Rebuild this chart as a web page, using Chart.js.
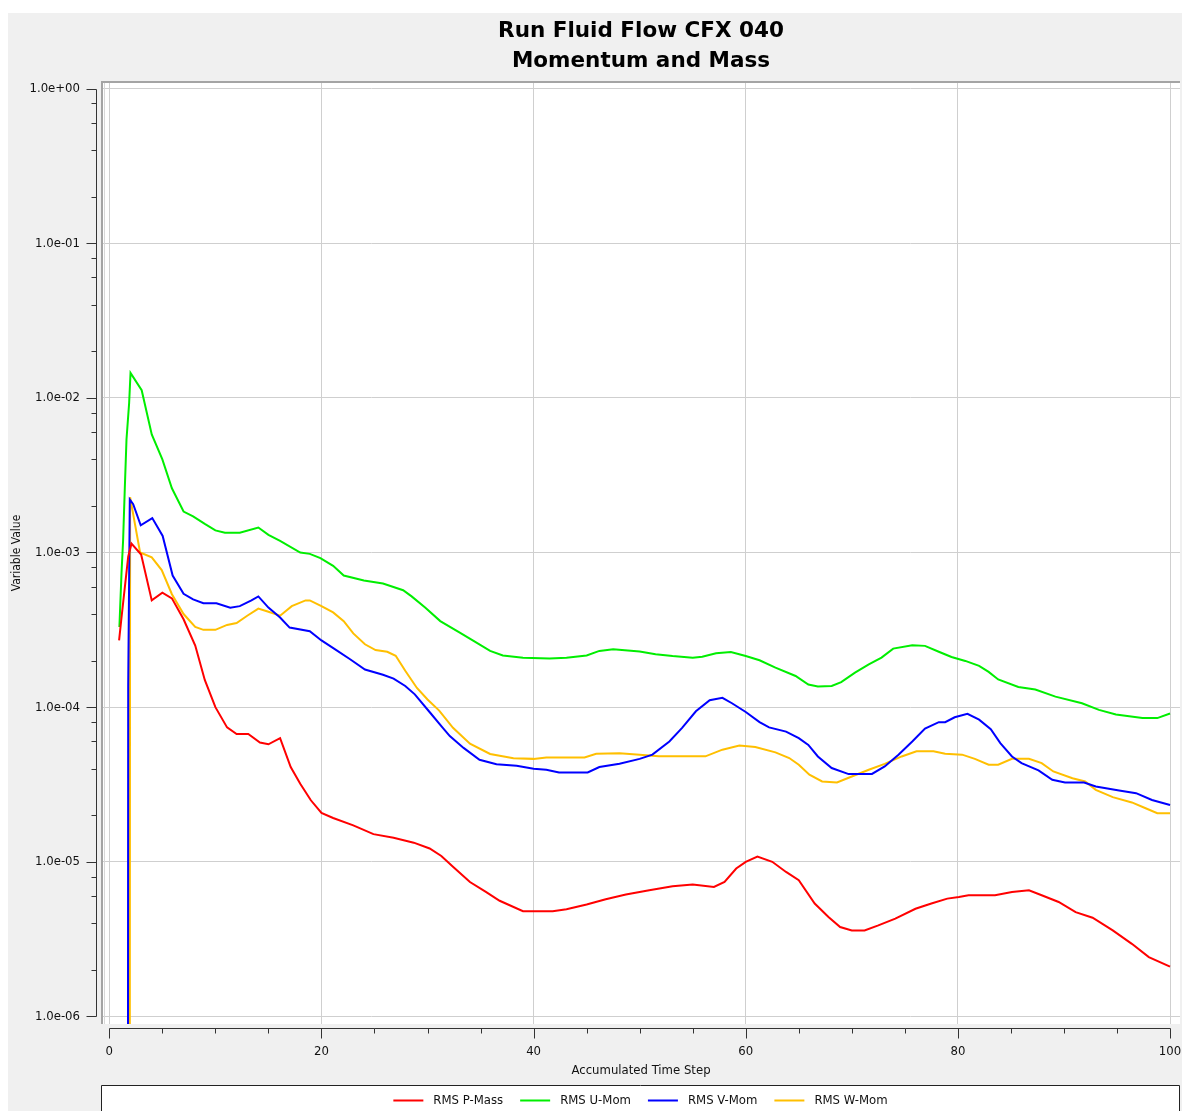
<!DOCTYPE html>
<html>
<head>
<meta charset="utf-8">
<script src="https://cdn.jsdelivr.net/npm/chart.js@4.4.1/dist/chart.umd.min.js"></script>
<style>
html,body{margin:0;padding:0;background:#fff;overflow:hidden}
#wrap{width:1184px;height:1111px;position:relative}
canvas{display:block}
</style>
</head>
<body>
<div id="wrap"><canvas id="c" width="1184" height="1111"></canvas></div>
<script>
// ---------------- data ----------------
const chartTitle = ['Run Fluid Flow CFX 040', 'Momentum and Mass'];
const xAxisTitle = 'Accumulated Time Step';
const yAxisTitle = 'Variable Value';
const seriesNames = ['RMS P-Mass', 'RMS U-Mom', 'RMS V-Mom', 'RMS W-Mom'];
const seriesColors = ['#ff0000', '#00ee00', '#0000ff', '#ffbf00'];

const xTickValues = [0, 20, 40, 60, 80, 100];
const xMinorTickValues = [0, 5, 10, 15, 20, 25, 30, 35, 40, 45, 50, 55, 60, 65, 70, 75, 80, 85, 90, 95, 100];
const yTickValues = [1e-6, 1e-5, 1e-4, 1e-3, 1e-2, 1e-1, 1e0];
const yMinorMultipliers = [2, 4, 6, 8];

const pMassSteps = [0.92, 1.15, 1.78, 2.09, 3.0, 4.0, 5.0, 5.9, 7.0, 8.1, 9.0, 10.0, 11.1, 12.0, 13.1, 14.2, 15.0, 16.1, 17.1, 18.0, 19.0, 20.0, 21.1, 23.0, 24.9, 26.8, 28.7, 30.2, 31.3, 32.4, 34.0, 35.5, 36.8, 39.0, 41.8, 43.1, 45.0, 46.8, 48.7, 50.9, 53.1, 55.0, 57.0, 58.0, 59.1, 60.0, 61.1, 62.5, 63.8, 65.0, 66.5, 67.8, 68.9, 70.0, 71.2, 72.5, 74.1, 76.0, 77.5, 79.0, 80.1, 81.0, 83.5, 85.1, 86.7, 87.9, 89.5, 91.1, 92.7, 94.6, 96.4, 98.0, 100];
const pMassValues = [2.7e-4, 3.8e-4, 9.4e-4, 1.14e-3, 9.7e-4, 4.9e-4, 5.5e-4, 5.05e-4, 3.7e-4, 2.5e-4, 1.5e-4, 1.0e-4, 7.4e-5, 6.7e-5, 6.7e-5, 5.9e-5, 5.75e-5, 6.3e-5, 4.1e-5, 3.2e-5, 2.5e-5, 2.07e-5, 1.92e-5, 1.72e-5, 1.51e-5, 1.43e-5, 1.33e-5, 1.22e-5, 1.09e-5, 9.3e-6, 7.4e-6, 6.4e-6, 5.6e-6, 4.79e-6, 4.79e-6, 4.93e-6, 5.29e-6, 5.73e-6, 6.14e-6, 6.55e-6, 6.95e-6, 7.13e-6, 6.88e-6, 7.42e-6, 9.05e-6, 1.0e-5, 1.08e-5, 1.0e-5, 8.6e-6, 7.6e-6, 5.37e-6, 4.4e-6, 3.79e-6, 3.6e-6, 3.6e-6, 3.88e-6, 4.29e-6, 4.97e-6, 5.37e-6, 5.78e-6, 5.93e-6, 6.08e-6, 6.08e-6, 6.38e-6, 6.55e-6, 6.08e-6, 5.5e-6, 4.73e-6, 4.35e-6, 3.6e-6, 2.95e-6, 2.42e-6, 2.1e-6];

const uMomSteps = [0.95, 1.15, 1.3, 1.46, 1.62, 1.87, 2.0, 3.05, 4.0, 5.0, 5.9, 7.0, 7.9, 9.0, 10.0, 10.9, 12.3, 14.05, 15.0, 16.1, 18.0, 18.9, 19.9, 21.1, 22.1, 24.0, 25.8, 27.7, 28.5, 29.8, 31.2, 33.0, 34.3, 35.9, 37.1, 39.0, 41.5, 43.1, 45.0, 46.2, 47.5, 50.0, 51.5, 53.1, 55.0, 55.9, 57.2, 58.6, 60.0, 61.3, 62.8, 64.7, 65.9, 66.8, 68.1, 69.0, 70.3, 71.6, 72.8, 73.9, 75.7, 76.9, 78.2, 79.4, 80.7, 82.0, 82.9, 83.8, 85.7, 87.3, 89.2, 91.7, 93.3, 94.9, 97.4, 98.8, 100];
const uMomValues = [3.3e-4, 7.4e-4, 1.2e-3, 2.6e-3, 5.4e-3, 9.3e-3, 1.45e-2, 1.12e-2, 5.8e-3, 4.0e-3, 2.6e-3, 1.84e-3, 1.71e-3, 1.53e-3, 1.39e-3, 1.34e-3, 1.34e-3, 1.45e-3, 1.3e-3, 1.19e-3, 1.0e-3, 9.8e-4, 9.2e-4, 8.2e-4, 7.1e-4, 6.6e-4, 6.3e-4, 5.7e-4, 5.2e-4, 4.4e-4, 3.6e-4, 3.04e-4, 2.69e-4, 2.31e-4, 2.16e-4, 2.09e-4, 2.06e-4, 2.09e-4, 2.16e-4, 2.31e-4, 2.37e-4, 2.29e-4, 2.2e-4, 2.14e-4, 2.09e-4, 2.12e-4, 2.23e-4, 2.27e-4, 2.14e-4, 2.01e-4, 1.8e-4, 1.59e-4, 1.4e-4, 1.36e-4, 1.37e-4, 1.45e-4, 1.67e-4, 1.89e-4, 2.09e-4, 2.39e-4, 2.51e-4, 2.49e-4, 2.28e-4, 2.11e-4, 1.99e-4, 1.85e-4, 1.69e-4, 1.51e-4, 1.35e-4, 1.3e-4, 1.17e-4, 1.06e-4, 9.6e-5, 8.96e-5, 8.5e-5, 8.5e-5, 9.1e-5];

const vMomSteps = [1.76, 1.78, 1.93, 2.25, 2.96, 4.05, 5.03, 5.97, 7.0, 7.9, 8.87, 10.1, 11.4, 12.3, 13.4, 14.05, 15.0, 16.1, 17.0, 18.9, 20.0, 21.4, 22.7, 24.1, 25.8, 26.8, 27.9, 28.8, 30.25, 31.4, 32.1, 33.4, 34.9, 36.5, 38.4, 40.0, 41.2, 42.4, 45.1, 46.2, 48.1, 50.0, 51.2, 52.8, 54.0, 55.3, 56.6, 57.8, 58.7, 60.0, 61.3, 62.2, 63.8, 65.0, 65.9, 66.8, 68.1, 69.7, 71.9, 73.1, 74.4, 75.7, 76.9, 78.2, 78.8, 79.7, 80.9, 82.0, 83.1, 84.0, 85.1, 86.0, 87.6, 88.9, 90.1, 91.9, 93.0, 95.2, 96.8, 98.3, 100];
const vMomValues = [5e-7, 1.36e-4, 2.2e-3, 2.05e-3, 1.5e-3, 1.67e-3, 1.28e-3, 7.1e-4, 5.4e-4, 4.97e-4, 4.7e-4, 4.7e-4, 4.4e-4, 4.5e-4, 4.9e-4, 5.2e-4, 4.4e-4, 3.8e-4, 3.27e-4, 3.1e-4, 2.7e-4, 2.34e-4, 2.04e-4, 1.75e-4, 1.62e-4, 1.53e-4, 1.37e-4, 1.21e-4, 9.2e-5, 7.4e-5, 6.5e-5, 5.45e-5, 4.57e-5, 4.28e-5, 4.18e-5, 4.0e-5, 3.94e-5, 3.78e-5, 3.78e-5, 4.1e-5, 4.3e-5, 4.63e-5, 4.93e-5, 6.0e-5, 7.35e-5, 9.4e-5, 1.11e-4, 1.15e-4, 1.06e-4, 9.3e-5, 8.0e-5, 7.4e-5, 6.95e-5, 6.3e-5, 5.7e-5, 4.8e-5, 4.04e-5, 3.69e-5, 3.7e-5, 4.14e-5, 4.93e-5, 6.0e-5, 7.26e-5, 8.0e-5, 8.0e-5, 8.6e-5, 9.05e-5, 8.3e-5, 7.2e-5, 5.86e-5, 4.8e-5, 4.35e-5, 3.9e-5, 3.39e-5, 3.26e-5, 3.26e-5, 3.07e-5, 2.89e-5, 2.78e-5, 2.51e-5, 2.33e-5];

const wMomSteps = [1.93, 1.96, 2.9, 4.0, 4.94, 5.9, 7.0, 8.1, 8.87, 10.0, 11.1, 12.0, 13.0, 14.05, 15.0, 16.1, 17.2, 18.5, 18.9, 20.0, 21.1, 22.1, 23.0, 24.1, 25.1, 26.2, 27.0, 27.9, 29.0, 30.0, 31.1, 32.4, 34.0, 35.9, 38.1, 40.0, 41.2, 44.8, 45.9, 48.1, 50.0, 51.8, 56.2, 57.8, 59.4, 60.9, 62.8, 64.1, 65.0, 66.0, 67.2, 68.6, 70.0, 71.6, 73.1, 74.7, 76.1, 77.7, 78.8, 80.4, 81.6, 82.9, 83.8, 85.1, 86.7, 87.9, 89.0, 90.8, 92.0, 93.0, 94.6, 96.4, 97.7, 98.8, 100];
const wMomValues = [5e-7, 2.28e-3, 1.0e-3, 9.3e-4, 7.7e-4, 5.37e-4, 4.0e-4, 3.3e-4, 3.16e-4, 3.16e-4, 3.4e-4, 3.5e-4, 3.9e-4, 4.34e-4, 4.14e-4, 3.9e-4, 4.5e-4, 4.9e-4, 4.9e-4, 4.5e-4, 4.1e-4, 3.6e-4, 3.0e-4, 2.55e-4, 2.34e-4, 2.28e-4, 2.15e-4, 1.72e-4, 1.33e-4, 1.12e-4, 9.5e-5, 7.35e-5, 5.8e-5, 4.98e-5, 4.67e-5, 4.63e-5, 4.73e-5, 4.73e-5, 5.0e-5, 5.03e-5, 4.93e-5, 4.81e-5, 4.81e-5, 5.31e-5, 5.64e-5, 5.52e-5, 5.1e-5, 4.69e-5, 4.24e-5, 3.66e-5, 3.31e-5, 3.26e-5, 3.56e-5, 3.94e-5, 4.3e-5, 4.8e-5, 5.18e-5, 5.18e-5, 5.0e-5, 4.93e-5, 4.63e-5, 4.25e-5, 4.25e-5, 4.63e-5, 4.63e-5, 4.35e-5, 3.84e-5, 3.47e-5, 3.31e-5, 2.92e-5, 2.62e-5, 2.42e-5, 2.22e-5, 2.06e-5, 2.06e-5];

// ---------------- build ----------------
const FONT = '"DejaVu Sans Condensed", "Liberation Sans", sans-serif';
const pairs = (xs, ys) => xs.map((x, i) => ({ x: x, y: ys[i] }));
const seriesData = [
  pairs(pMassSteps, pMassValues),
  pairs(uMomSteps, uMomValues),
  pairs(vMomSteps, vMomValues),
  pairs(wMomSteps, wMomValues)
];

const fmtExp = v => {
  const s = Number(v).toExponential(1);
  return s.replace(/e([+-])(\d)$/, 'e$10$2');
};

const decor = {
  id: 'decor',
  beforeDraw(chart) {
    const { ctx, chartArea: a } = chart;
    ctx.save();
    ctx.fillStyle = '#ffffff';
    ctx.fillRect(0, 0, chart.width, chart.height);
    ctx.fillStyle = '#f0f0f0';
    ctx.fillRect(8, 13, 1174, chart.height - 13);
    ctx.fillStyle = '#ffffff';
    ctx.fillRect(a.left, a.top, a.right - a.left, a.bottom - a.top);
    ctx.restore();
  },
  afterDraw(chart) {
    const { ctx, chartArea: a, scales } = chart;
    const xs = scales.x, ys = scales.y;
    ctx.save();
    // plot frame (top and left)
    ctx.strokeStyle = '#a4a4a4';
    ctx.lineWidth = 2;
    ctx.beginPath();
    ctx.moveTo(a.left, a.bottom);
    ctx.lineTo(a.left, a.top);
    ctx.lineTo(a.right, a.top);
    ctx.stroke();
    ctx.strokeStyle = '#d8d8d8';
    ctx.lineWidth = 1;
    ctx.beginPath();
    ctx.moveTo(a.left + 2.5, a.bottom);
    ctx.lineTo(a.left + 2.5, a.top + 1);
    ctx.stroke();

    // y axis line + ticks
    ctx.strokeStyle = '#333333';
    ctx.lineWidth = 1;
    const yx = a.left - 5.5;
    const yTop = Math.round(ys.getPixelForValue(yTickValues[yTickValues.length - 1])) + 0.5;
    const yBot = Math.round(ys.getPixelForValue(yTickValues[0])) + 0.5;
    ctx.beginPath();
    ctx.moveTo(yx, yTop);
    ctx.lineTo(yx, yBot);
    yTickValues.forEach(v => {
      const p = Math.round(ys.getPixelForValue(v)) + 0.5;
      ctx.moveTo(yx - 10, p); ctx.lineTo(yx, p);
    });
    for (let i = 0; i < yTickValues.length - 1; i++) {
      yMinorMultipliers.forEach(m => {
        const p = Math.round(ys.getPixelForValue(yTickValues[i] * m)) + 0.5;
        ctx.moveTo(yx - 5, p); ctx.lineTo(yx, p);
      });
    }
    ctx.stroke();

    // x axis line + ticks
    const xy = a.bottom + 4.5;
    const xL = Math.round(xs.getPixelForValue(xTickValues[0])) + 0.5;
    const xR = Math.round(xs.getPixelForValue(xTickValues[xTickValues.length - 1])) + 0.5;
    ctx.beginPath();
    ctx.moveTo(xL, xy);
    ctx.lineTo(xR, xy);
    xMinorTickValues.forEach(v => {
      const p = Math.round(xs.getPixelForValue(v)) + 0.5;
      const len = xTickValues.includes(v) ? 10 : 5;
      ctx.moveTo(p, xy); ctx.lineTo(p, xy + len);
    });
    ctx.stroke();

    // legend box
    const lx = 101.5, ly = 1085.5, lr = 1179.5;
    ctx.fillStyle = '#ffffff';
    ctx.fillRect(lx, ly, lr - lx, chart.height - ly + 2);
    ctx.strokeStyle = '#222222';
    ctx.lineWidth = 1;
    ctx.beginPath();
    ctx.moveTo(lx, chart.height + 2);
    ctx.lineTo(lx, ly);
    ctx.lineTo(lr, ly);
    ctx.lineTo(lr, chart.height + 2);
    ctx.stroke();

    // legend items
    ctx.font = '13px ' + FONT;
    ctx.textBaseline = 'middle';
    ctx.textAlign = 'left';
    const lineLen = 30, gapText = 10, gapItem = 17;
    const ds = chart.data.datasets;
    const widths = ds.map(d => ctx.measureText(d.label).width);
    let total = 0;
    widths.forEach((w, i) => { total += lineLen + gapText + w + (i < widths.length - 1 ? gapItem : 0); });
    let cx = (lx + lr) / 2 - total / 2;
    const cy = 1100.5;
    ds.forEach((d, i) => {
      ctx.strokeStyle = d.borderColor;
      ctx.lineWidth = 2;
      ctx.beginPath();
      ctx.moveTo(cx, cy); ctx.lineTo(cx + lineLen, cy);
      ctx.stroke();
      ctx.fillStyle = '#111111';
      ctx.fillText(d.label, cx + lineLen + gapText, cy);
      cx += lineLen + gapText + widths[i] + gapItem;
    });
    ctx.restore();
  }
};

new Chart(document.getElementById('c'), {
  type: 'line',
  data: {
    datasets: seriesNames.map((name, i) => ({
      label: name,
      data: seriesData[i],
      borderColor: seriesColors[i],
      backgroundColor: seriesColors[i],
      borderWidth: 2,
      pointRadius: 0,
      pointHoverRadius: 0,
      tension: 0,
      fill: false
    }))
  },
  options: {
    responsive: false,
    animation: false,
    devicePixelRatio: 1,
    layout: { padding: { left: 8, top: 13, right: 4, bottom: 26 } },
    plugins: {
      legend: { display: false },
      tooltip: { enabled: false },
      title: {
        display: true,
        fullSize: false,
        text: chartTitle,
        color: '#000000',
        font: { family: '"DejaVu Sans", sans-serif', size: 21.5, weight: 'bold', lineHeight: 1.395 },
        padding: { top: 3, bottom: 6 }
      }
    },
    scales: {
      x: {
        type: 'linear',
        position: 'bottom',
        min: -0.69,
        max: 100.94,
        bounds: 'data',
        afterBuildTicks: s => { s.ticks = xTickValues.map(v => ({ value: v })); },
        afterFit: s => { s.height = 61; s.paddingLeft = 0; s.paddingRight = 0; s.paddingTop = 0; s.paddingBottom = 0; },
        grid: { color: '#cfcfcf', lineWidth: 1, drawTicks: false },
        border: { display: false },
        ticks: { color: '#111111', font: { family: FONT, size: 13 }, padding: 20, maxRotation: 0, autoSkip: false },
        title: { display: true, text: xAxisTitle, color: '#111111', font: { family: FONT, size: 13 }, padding: { top: 0, bottom: 7 } }
      },
      y: {
        type: 'logarithmic',
        position: 'left',
        min: 8.94e-7,
        max: 1.102,
        bounds: 'data',
        afterBuildTicks: s => { s.ticks = yTickValues.map(v => ({ value: v })); },
        afterFit: s => { s.width = 94; s.paddingLeft = 0; s.paddingRight = 0; s.paddingTop = 0; s.paddingBottom = 0; },
        grid: { color: '#cfcfcf', lineWidth: 1, drawTicks: false },
        border: { display: false },
        ticks: { color: '#111111', font: { family: FONT, size: 13 }, padding: 22, autoSkip: false, callback: v => fmtExp(v) },
        title: { display: true, text: yAxisTitle, color: '#111111', font: { family: FONT, size: 12 }, padding: { top: 2, bottom: 0 } }
      }
    }
  },
  plugins: [decor]
});
</script>
</body>
</html>
